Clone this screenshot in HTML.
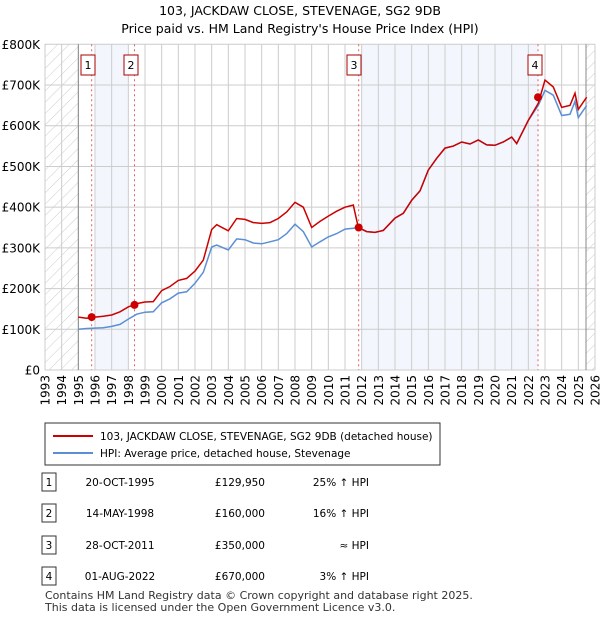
<!DOCTYPE html>
<html><head><meta charset="utf-8"><style>
body{margin:0;background:#fff;font-family:"Liberation Sans","DejaVu Sans",sans-serif;}
svg text{font-family:"DejaVu Sans","Liberation Sans",sans-serif;}
</style></head><body>
<svg id="c" width="600" height="620" xmlns="http://www.w3.org/2000/svg">
<defs><pattern id="hatch" patternUnits="userSpaceOnUse" width="8" height="8" patternTransform="rotate(45)"><line x1="0" y1="0" x2="0" y2="8" stroke="#ccc" stroke-width="1"/></pattern></defs>
<text x="300" y="15" text-anchor="middle" font-size="12.5">103, JACKDAW CLOSE, STEVENAGE, SG2 9DB</text>
<text x="300" y="33" text-anchor="middle" font-size="12.5">Price paid vs. HM Land Registry's House Price Index (HPI)</text>
<g id="plot"></g>
<g>
<rect x="45" y="423" width="395" height="42" fill="#fff" stroke="#333" stroke-width="1"/>
<line x1="53" y1="436" x2="93" y2="436" stroke="#cc0000" stroke-width="2"/>
<text x="100" y="440" font-size="10.5">103, JACKDAW CLOSE, STEVENAGE, SG2 9DB (detached house)</text>
<line x1="53" y1="453" x2="93" y2="453" stroke="#5b8fd4" stroke-width="2"/>
<text x="100" y="457" font-size="10.5">HPI: Average price, detached house, Stevenage</text>
</g>
<g id="table" font-size="10.5"></g>
<text x="45" y="599" font-size="11" fill="#333">Contains HM Land Registry data © Crown copyright and database right 2025.</text>
<text x="45" y="611" font-size="11" fill="#333">This data is licensed under the Open Government Licence v3.0.</text>
</svg>
<script>
const years=[1995,1995.5,1996,1996.5,1997,1997.5,1998,1998.5,1999,1999.5,2000,2000.5,2001,2001.5,2002,2002.5,2003,2003.3,2004,2004.5,2005,2005.5,2006,2006.5,2007,2007.5,2008,2008.5,2009,2009.5,2010,2010.5,2011,2011.5,2011.8,2012.3,2012.8,2013.3,2014,2014.5,2015,2015.5,2016,2016.5,2017,2017.5,2018,2018.5,2019,2019.5,2020,2020.5,2021,2021.3,2022,2022.6,2023,2023.5,2024,2024.5,2024.8,2025,2025.5];
const hpiValues=[100,102,103,104,107,112,125,137,142,143,165,175,189,192,213,240,302,307,295,322,320,312,310,315,320,335,358,340,302,315,327,335,346,348,350,340,338,343,373,385,417,440,491,520,545,550,560,555,565,553,552,560,572,556,613,650,687,675,625,628,660,620,650];
const priceValues=[130,127,130,132,135,143,155,163,167,168,195,205,220,225,243,270,345,357,342,372,370,362,360,362,372,388,412,400,350,365,378,390,400,405,350,340,338,343,373,385,417,440,491,520,545,550,560,555,565,553,552,560,572,556,613,655,712,695,645,650,680,640,670];
const saleYears=[1995.8,1998.37,2011.82,2022.58];
const salePrices=[129.95,160,350,670];
const saleDates=["20-OCT-1995","14-MAY-1998","28-OCT-2011","01-AUG-2022"];
const salePriceLabels=["£129,950","£160,000","£350,000","£670,000"];
const saleHpi=["25% ↑ HPI","16% ↑ HPI","≈ HPI","3% ↑ HPI"];
const yTicks=[0,100,200,300,400,500,600,700,800];
const yTickLabels=["£0","£100K","£200K","£300K","£400K","£500K","£600K","£700K","£800K"];

const NS="http://www.w3.org/2000/svg";
const X0=45,X1=595,Y0=370,Y1=44.3;
const xs=y=>X0+(y-1993)/(2026-1993)*(X1-X0);
const ys=v=>Y0-v/800*(Y0-Y1);
const plot=document.getElementById('plot');
function mk(tag,attrs,parent){const e=document.createElementNS(NS,tag);for(const k in attrs)e.setAttribute(k,attrs[k]);(parent||plot).appendChild(e);return e;}
let e;
e=mk('rect',{x:xs(1993),y:Y1,width:xs(1995)-xs(1993),height:Y0-Y1,fill:'url(#hatch)'});


e=mk('rect',{x:xs(2025.46),y:Y1,width:X1-xs(2025.46),height:Y0-Y1,fill:'url(#hatch)'});


e=mk('rect',{x:xs(1996),y:Y1,width:xs(1998)-xs(1996),height:Y0-Y1,fill:'#eef3fc',opacity:0.7});


e=mk('rect',{x:xs(2012),y:Y1,width:xs(2022.58)-xs(2012),height:Y0-Y1,fill:'#eef3fc',opacity:0.7});


for(let yr=1993;yr<=2026;yr++){
 e=mk('line',{x1:xs(yr),x2:xs(yr),y1:Y1,y2:Y0,stroke:'#cccccc','stroke-width':1});
 
 
 const x=xs(yr);
 e=mk('text',{x:0,y:0,transform:`translate(${x+4.5},${Y0+5}) rotate(-90)`,'text-anchor':'end','font-size':12});
 e.textContent=yr;
 
 
}
yTicks.forEach((v,i)=>{
 e=mk('line',{x1:X0,x2:X1,y1:ys(v),y2:ys(v),stroke:'#cccccc','stroke-width':1});
 
 
 e=mk('text',{x:40,y:ys(v)+4.5,'text-anchor':'end','font-size':12});
 e.textContent=yTickLabels[i];
 
 
});
e=mk('line',{x1:xs(1995),x2:xs(1995),y1:Y1,y2:Y0,stroke:'#888','stroke-width':1});


e=mk('line',{x1:xs(2025.46),x2:xs(2025.46),y1:Y1,y2:Y0,stroke:'#888','stroke-width':1});


saleYears.forEach((yr,i)=>{
 e=mk('line',{x1:xs(yr),x2:xs(yr),y1:Y1,y2:Y0,stroke:'#e06060','stroke-width':1,'stroke-dasharray':'2,3'});
 
 
});
const pts=v=>years.map((y,i)=>xs(y).toFixed(1)+','+ys(v[i]).toFixed(1)).join(' ');
e=mk('polyline',{points:pts(hpiValues),fill:'none',stroke:'#5b8fd4','stroke-width':1.5});


e=mk('polyline',{points:pts(priceValues),fill:'none',stroke:'#cc0000','stroke-width':1.5});


saleYears.forEach((yr,i)=>{
 e=mk('circle',{cx:xs(yr),cy:ys(salePrices[i]),r:4,fill:'#cc0000'});
 
 
 const cx=i==0?88:(i==1?131:(i==2?354:535));
 e=mk('rect',{x:cx-7,y:55,width:14,height:20,fill:'#fff',stroke:'#aa0000','stroke-width':1});
 
 
 e=mk('text',{x:cx,y:69,'text-anchor':'middle','font-size':11});
 e.textContent=i+1;
 
 
});
const tbl=document.getElementById('table');
const rowY=[483,514,546,577];
rowY.forEach((y,i)=>{
 e=mk('rect',{x:42,y:y-10,width:14,height:18,fill:'#fff',stroke:'#333','stroke-width':1},tbl);
 
 
 e=mk('text',{x:49,y:y+3,'text-anchor':'middle'},tbl);e.textContent=i+1;
 
 
 e=mk('text',{x:120,y:y+3,'text-anchor':'middle'},tbl);e.textContent=saleDates[i];
 
 
 e=mk('text',{x:265,y:y+3,'text-anchor':'end'},tbl);e.textContent=salePriceLabels[i];
 
 
 e=mk('text',{x:369,y:y+3,'text-anchor':'end'},tbl);e.textContent=saleHpi[i];
 
 
});
</script>
</body></html>
